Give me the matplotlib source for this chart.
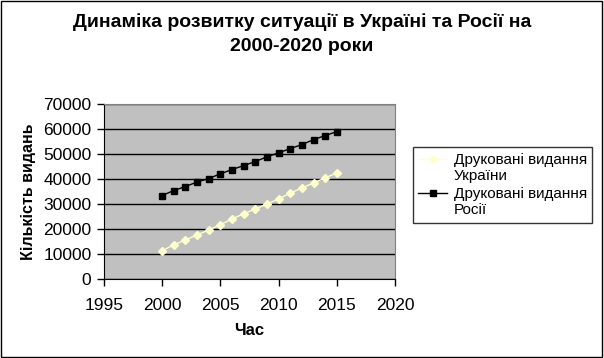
import matplotlib
matplotlib.use("Agg")
import matplotlib.pyplot as plt
from matplotlib.legend_handler import HandlerLine2D
from matplotlib.transforms import Affine2D

plt.rcParams['font.family'] = ['Liberation Sans', 'DejaVu Sans']

years = list(range(2000, 2016))
ukraine = [11300, 13600, 15600, 17600, 19600, 21700, 24000, 26100,
           28000, 30000, 32000, 34400, 36400, 38400, 40500, 42400]
russia = [33400, 35400, 37000, 38800, 40200, 42100, 43800, 45400,
          47000, 48900, 50500, 52200, 53800, 55800, 57400, 59000]

title = "Динаміка розвитку ситуації в Україні та Росії на\n2000-2020 роки"
labels = ["Друковані видання\nУкраїни", "Друковані видання\nРосії"]


# legend handle sits next to the first line of a two-line label
class TopLineHandler(HandlerLine2D):
    def create_artists(self, legend, orig_handle, xdescent, ydescent,
                       width, height, fontsize, trans):
        shift = Affine2D().translate(0, 0.6 * fontsize)
        return super().create_artists(legend, orig_handle, xdescent, ydescent,
                                      width, height, fontsize, shift + trans)


fig = plt.figure(figsize=(6.04, 3.58), dpi=100)
ax = fig.add_axes([0.172, 0.221, 0.482, 0.488])
ax.set_facecolor('#c0c0c0')

l1, = ax.plot(years, ukraine, color='#ffffcc', marker='D', markersize=4,
              linewidth=1, label=labels[0], zorder=3)
l2, = ax.plot(years, russia, color='black', marker='s', markersize=4.5,
              linewidth=1, label=labels[1], zorder=3)

ax.set_xlim(1995, 2020)
ax.set_ylim(0, 70000)
ax.set_xticks(range(1995, 2021, 5))
ax.set_yticks(range(0, 70001, 10000))
ax.yaxis.grid(True, color='black', linewidth=1)
ax.set_axisbelow(True)
ax.tick_params(direction='out', length=5, width=1, labelsize=12.5,
               colors='black', pad=4)
ax.tick_params(axis='x', pad=9)

for s in ['top', 'right']:
    ax.spines[s].set_color('#808080')
for s in ['left', 'bottom']:
    ax.spines[s].set_color('black')

ax.set_xlabel("Час", fontsize=12, fontweight='bold', labelpad=7)
ax.set_ylabel("Кількість видань", fontsize=11.5, fontweight='bold', labelpad=5)
fig.suptitle(title, fontsize=14, fontweight='bold', y=0.962, linespacing=1.5)

leg = ax.legend(loc='upper left', bbox_to_anchor=(1.062, 0.754), fontsize=11,
                frameon=True, fancybox=False, edgecolor='black',
                handlelength=1.9, handletextpad=0.4, borderpad=0.35,
                labelspacing=0.3, borderaxespad=0,
                handler_map={l1: TopLineHandler(), l2: TopLineHandler()})
leg.get_frame().set_linewidth(1)

fig.patches.append(plt.Rectangle((0.002, 0.003), 0.995, 0.993, fill=False,
                                 edgecolor='black', linewidth=1,
                                 transform=fig.transFigure, figure=fig))

fig.savefig("out.png", dpi=100)
